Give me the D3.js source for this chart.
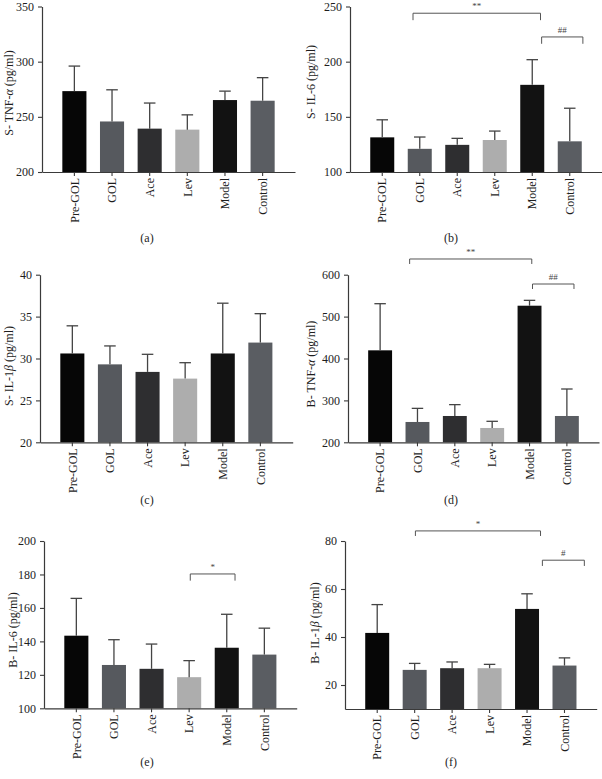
<!DOCTYPE html>
<html>
<head>
<meta charset="utf-8">
<script src="https://cdn.jsdelivr.net/npm/d3@7"></script>
<style>
  html, body { margin: 0; padding: 0; background: #fff; }
  svg { display: block; }
  text { font-family: "Liberation Serif", "DejaVu Serif", serif; }
</style>
</head>
<body>
<svg id="chart" width="602" height="779"></svg>
<script>
// ---------- data ----------
const categories = ["Pre-GOL", "GOL", "Ace", "Lev", "Model", "Control"];

// (a) S- TNF-α
const sTnfMean = [273.3, 245.8, 239.3, 238.4, 265.2, 264.6];
const sTnfSd   = [22.7, 28.7, 23.2, 13.4, 8.1, 20.9];
const sTnfTicks = [200, 250, 300, 350];

// (b) S- IL-6
const sIl6Mean = [131.4, 121.0, 124.6, 129.0, 179.0, 127.8];
const sIl6Sd   = [15.9, 10.7, 5.9, 8.1, 22.8, 30.0];
const sIl6Ticks = [100, 150, 200, 250];
const sIl6Sig = [
  { from: 0.82, to: 4.22, y: 243.9, drop: 237.6, label: "**" },
  { from: 4.25, to: 5.35, y: 222.4, drop: 216.2, label: "##" }
];

// (c) S- IL-1β
const sIl1Mean = [30.6, 29.3, 28.4, 27.6, 30.6, 31.9];
const sIl1Sd   = [3.3, 2.2, 2.1, 1.9, 6.0, 3.45];
const sIl1Ticks = [20, 25, 30, 35, 40];

// (d) B- TNF-α
const bTnfMean = [419.5, 248.5, 262.8, 234.2, 526.0, 262.8];
const bTnfSd   = [111.3, 32.5, 27.1, 15.9, 12.8, 64.4];
const bTnfTicks = [200, 300, 400, 500, 600];
const bTnfSig = [
  { from: 0.79, to: 4.06, y: 637.5, drop: 625.6, label: "**" },
  { from: 4.08, to: 5.19, y: 577.8, drop: 565.9, label: "##" }
];

// (e) B- IL-6
const bIl6Mean = [143.4, 125.9, 123.6, 118.6, 136.2, 132.1];
const bIl6Sd   = [22.3, 15.1, 14.8, 9.9, 20.0, 15.8];
const bIl6Ticks = [100, 120, 140, 160, 180, 200];
const bIl6Sig = [
  { from: 3.03, to: 4.22, y: 180.3, drop: 176.3, label: "*" }
];

// (f) B- IL-1β
const bIl1Mean = [41.7, 26.3, 27.0, 27.0, 51.7, 28.1];
const bIl1Sd   = [11.8, 2.7, 2.6, 1.6, 6.3, 3.2];
const bIl1Ticks = [20, 40, 60, 80];
const bIl1Sig = [
  { from: 1.02, to: 4.36, y: 84.2, drop: 82.1, label: "*" },
  { from: 4.41, to: 5.53, y: 72.0, drop: 69.6, label: "#" }
];

// ---------- style ----------
const barColors = ["#060606", "#56595e", "#2e2e30", "#adadad", "#121212", "#5a5d62"];

const panels = [
  { mean: sTnfMean, sd: sTnfSd, ticks: sTnfTicks, domain: [200, 350], sig: [],
    pre: "S- TNF-", greek: "α", post: " (pg/ml)", tag: "(a)",
    box: { l: 42, r: 295, t: 6.5, b: 172 }, titleX: 9, titleY: 93, tagX: 147, tagY: 238 },
  { mean: sIl6Mean, sd: sIl6Sd, ticks: sIl6Ticks, domain: [100, 250], sig: sIl6Sig,
    pre: "S- IL-6 (pg/ml)", greek: "", post: "", tag: "(b)",
    box: { l: 350, r: 602, t: 6.5, b: 172 }, titleX: 311, titleY: 82, tagX: 451, tagY: 238 },
  { mean: sIl1Mean, sd: sIl1Sd, ticks: sIl1Ticks, domain: [20, 40], sig: [],
    pre: "S- IL-1", greek: "β", post: " (pg/ml)", tag: "(c)",
    box: { l: 40, r: 292.7, t: 274.7, b: 442.3 }, titleX: 9, titleY: 366, tagX: 147, tagY: 500 },
  { mean: bTnfMean, sd: bTnfSd, ticks: bTnfTicks, domain: [200, 600], sig: bTnfSig,
    pre: "B- TNF-", greek: "α", post: " (pg/ml)", tag: "(d)",
    box: { l: 348, r: 599, t: 274.7, b: 442.3 }, titleX: 311, titleY: 364, tagX: 451, tagY: 500 },
  { mean: bIl6Mean, sd: bIl6Sd, ticks: bIl6Ticks, domain: [100, 200], sig: bIl6Sig,
    pre: "B- IL-6 (pg/ml)", greek: "", post: "", tag: "(e)",
    box: { l: 44, r: 296.7, t: 541, b: 708.3 }, titleX: 13, titleY: 630, tagX: 147, tagY: 762 },
  { mean: bIl1Mean, sd: bIl1Sd, ticks: bIl1Ticks, domain: [10, 80], sig: bIl1Sig,
    pre: "B- IL-1", greek: "β", post: " (pg/ml)", tag: "(f)",
    box: { l: 345, r: 596.7, t: 541, b: 709 }, titleX: 315, titleY: 623, tagX: 451, tagY: 762 }
];

const svg = d3.select("#chart");
const axisColor = "#3a3a3a";
const textColor = "#1e1e1e";

panels.forEach(p => {
  const g = svg.append("g");
  const x = d3.scaleBand().domain(categories).range([p.box.l, p.box.r])
    .paddingInner(0.36).paddingOuter(0.54);
  const y = d3.scaleLinear().domain(p.domain).range([p.box.b, p.box.t]);
  const bw = x.bandwidth();
  const idx = i => x(categories[0]) + bw / 2 + i * x.step();

  // bars
  g.selectAll("rect.bar").data(categories).join("rect")
    .attr("class", "bar")
    .attr("x", d => x(d))
    .attr("width", bw)
    .attr("y", (d, i) => y(p.mean[i]))
    .attr("height", (d, i) => y(p.domain[0]) - y(p.mean[i]))
    .attr("fill", (d, i) => barColors[i]);

  // error bars (upper only)
  const eb = g.selectAll("g.err").data(categories).join("g").attr("class", "err")
    .attr("stroke", "#444").attr("stroke-width", 1.3).attr("fill", "none");
  eb.append("line")
    .attr("x1", d => x(d) + bw / 2).attr("x2", d => x(d) + bw / 2)
    .attr("y1", (d, i) => y(p.mean[i])).attr("y2", (d, i) => y(p.mean[i] + p.sd[i]));
  eb.append("line")
    .attr("x1", d => x(d) + bw / 2 - bw * 0.24).attr("x2", d => x(d) + bw / 2 + bw * 0.24)
    .attr("y1", (d, i) => y(p.mean[i] + p.sd[i])).attr("y2", (d, i) => y(p.mean[i] + p.sd[i]));

  // y axis
  const ya = g.append("g").attr("transform", `translate(${p.box.l},0)`)
    .call(d3.axisLeft(y).tickValues(p.ticks).tickSize(4).tickSizeOuter(0).tickPadding(4));
  // x axis
  const xa = g.append("g").attr("transform", `translate(0,${p.box.b})`)
    .call(d3.axisBottom(x).tickSize(4).tickSizeOuter(0));
  [ya, xa].forEach(a => {
    a.select(".domain").attr("stroke", axisColor).attr("stroke-width", 1.2);
    a.selectAll(".tick line").attr("stroke", axisColor).attr("stroke-width", 1.1);
    a.selectAll("text").attr("fill", textColor).style("font-size", "12px")
      .style("font-family", "'Liberation Serif', serif");
  });
  xa.selectAll(".tick text")
    .attr("transform", "rotate(-90)")
    .attr("text-anchor", "end")
    .attr("x", -6).attr("y", 0).attr("dy", "0.35em");

  // y title
  const t = g.append("text")
    .attr("transform", `translate(${p.titleX},${p.titleY}) rotate(-90)`)
    .attr("text-anchor", "middle").attr("dy", "0.35em")
    .attr("fill", textColor).style("font-size", "12px");
  t.append("tspan").text(p.pre);
  if (p.greek) {
    t.append("tspan").style("font-style", "italic").text(p.greek);
    t.append("tspan").text(p.post);
  }

  // significance brackets
  p.sig.forEach(s => {
    const x1 = idx(s.from), x2 = idx(s.to);
    g.append("path")
      .attr("d", `M${x1},${y(s.drop)}V${y(s.y)}H${x2}V${y(s.drop)}`)
      .attr("fill", "none").attr("stroke", "#555").attr("stroke-width", 1);
    g.append("text")
      .attr("x", (x1 + x2) / 2).attr("y", y(s.y) - 4)
      .attr("text-anchor", "middle")
      .attr("fill", "#444").style("font-size", "9px")
      .text(s.label);
  });

  // panel tag
  g.append("text").attr("x", p.tagX).attr("y", p.tagY)
    .attr("text-anchor", "middle").attr("dy", "0.35em")
    .attr("fill", textColor).style("font-size", "12px").text(p.tag);
});
</script>
</body>
</html>
